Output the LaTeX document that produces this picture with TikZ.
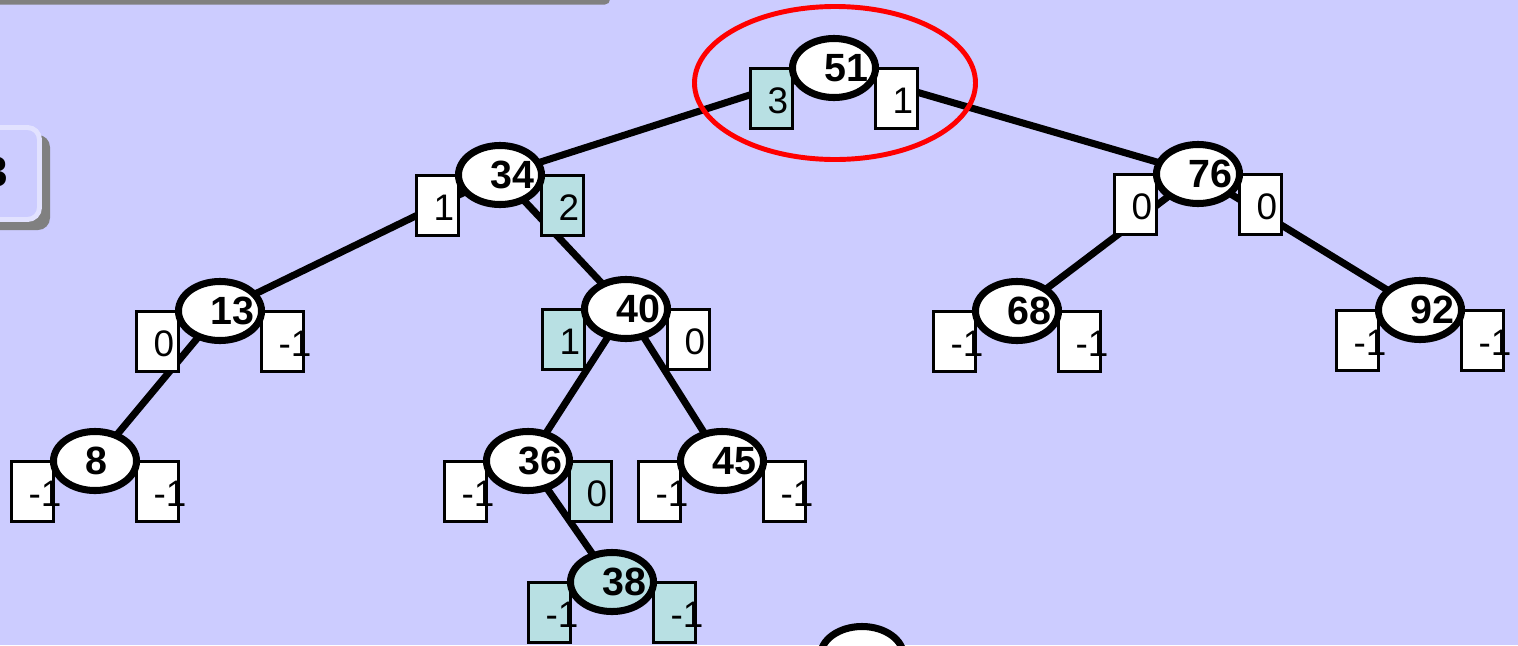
\documentclass[tikz,border=0pt]{standalone}
\usepackage{fontspec}
\setmainfont{Liberation Sans}
\usepackage{tikz}
\usetikzlibrary{shapes}
\definecolor{lavender}{RGB}{204,204,255}
\definecolor{hotblue}{RGB}{184,224,227}
\definecolor{btnedge}{RGB}{226,226,255}
\definecolor{btnshade}{RGB}{128,128,128}
\tikzstyle{key} = [ellipse, draw, line width=2pt, fill=white, minimum width=0.83cm, minimum height=0.59cm, inner sep=0pt]
\tikzstyle{keytext} = [anchor=west, inner sep=0pt, font=\bfseries\fontsize{11.2pt}{11pt}\selectfont]
\tikzstyle{bal} = [rectangle, draw, line width=0.9pt, fill=white, minimum width=0.42cm, minimum height=0.60cm, inner sep=0pt]
\tikzstyle{baltext} = [anchor=west, inner sep=0pt, font=\fontsize{10.5pt}{10pt}\selectfont]
\tikzstyle{hot} = [fill=hotblue]
\tikzstyle{edge} = [line width=2pt]

% key ellipse with its two balance boxes
\newcommand{\avlnode}[7]{
	\node[bal,#5] (#1-l) at ([shift={(-62.5,30.5)}]#1) {};
	\node[baltext] (#1-lt) at ([xshift=0.18cm,yshift=-0.02cm]#1-l.west) {#3};
	\node[bal,#6] (#1-r) at ([shift={(62.5,30.5)}]#1) {};
	\node[baltext] (#1-rt) at ([xshift=0.18cm,yshift=-0.02cm]#1-r.west) {#4};
	\node[key,#7] (#1-k) at (#1) {};
	\node[keytext] (#1-t) at ([xshift=-0.10cm]#1) {#2};
}

\begin{document}
\begin{tikzpicture}[x=0.01cm, y=-0.01cm]
				\useasboundingbox (0,0) rectangle (1518,645);
				\clip (0,0) rectangle (1518,645);
				\fill[lavender] (0,0) rectangle (1518,645);
				
				% bits of the panel round the tree
				\fill[btnshade, rounded corners=0.05cm] (-50,-50) rectangle (610,4.5);
				\fill[btnshade, rounded corners=0.12cm] (-60,135) rectangle (50,230);
				\draw[btnedge, line width=1.4pt, fill=lavender, rounded corners=0.12cm] (-60,127.5) rectangle (39.5,219.5);
				\node[anchor=east, inner sep=0pt, font=\bfseries\fontsize{12pt}{12pt}\selectfont] (btn) at (9,172) {3};
				
				\coordinate (n51) at (834,68);
				\coordinate (n34) at (500,175);
				\coordinate (n76) at (1198,174);
				\coordinate (n13) at (220,311);
				\coordinate (n40) at (626,309);
				\coordinate (n68) at (1017,311);
				\coordinate (n92) at (1420,310);
				\coordinate (n8)  at (95,461);
				\coordinate (n36) at (528,461);
				\coordinate (n45) at (722,461);
				\coordinate (n38) at (612,582);
				\coordinate (nlow) at (862,656);
				
				\draw[edge] (n51) -- (n34);
				\draw[edge] (n51) -- (n76);
				\draw[edge] (n34) -- (n13);
				\draw[edge] (n34) -- (n40);
				\draw[edge] (n76) -- (n68);
				\draw[edge] (n76) -- (n92);
				\draw[edge] (n13) -- (n8);
				\draw[edge] (n40) -- (n36);
				\draw[edge] (n40) -- (n45);
				\draw[edge] (n36) -- (n38);
				
				\avlnode{n51}{51}{3}{1}{hot}{}{}
				\avlnode{n34}{34}{1}{2}{}{hot}{}
				\avlnode{n76}{76}{0}{0}{}{}{}
				\avlnode{n13}{13}{0}{-1}{}{}{}
				\avlnode{n40}{40}{1}{0}{hot}{}{}
				\avlnode{n68}{68}{-1}{-1}{}{}{}
				\avlnode{n92}{92}{-1}{-1}{}{}{}
				\avlnode{n8}{8}{-1}{-1}{}{}{}
				\avlnode{n36}{36}{-1}{0}{}{hot}{}
				\avlnode{n45}{45}{-1}{-1}{}{}{}
				\avlnode{n38}{38}{-1}{-1}{hot}{hot}{hot}
				\node[key] (nlow-k) at (nlow) {};
				
				% the node being rebalanced
				\draw[red, line width=1.4pt] (835,83) ellipse [x radius=140.5, y radius=76.5];
				
\end{tikzpicture}
\end{document}
